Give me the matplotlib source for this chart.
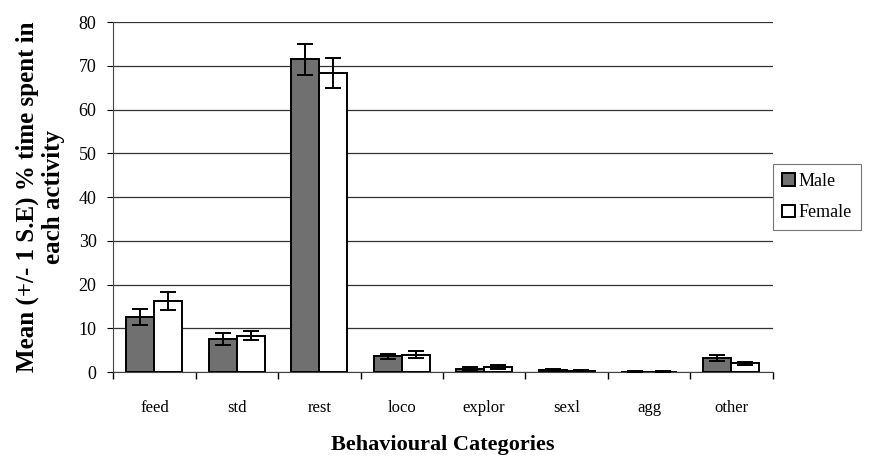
import numpy as np
import matplotlib
matplotlib.use("Agg")
import matplotlib.pyplot as plt

plt.rcParams['font.family'] = ['Liberation Serif', 'DejaVu Serif']

categories = ['feed', 'std', 'rest', 'loco', 'explor', 'sexl', 'agg', 'other']
male = [12.6, 7.5, 71.5, 3.6, 0.8, 0.5, 0.1, 3.3]
male_se = [1.8, 1.4, 3.6, 0.6, 0.3, 0.3, 0.1, 0.7]
female = [16.3, 8.3, 68.4, 4.0, 1.1, 0.3, 0.1, 2.0]
female_se = [2.1, 1.0, 3.5, 0.7, 0.4, 0.1, 0.1, 0.4]

fig = plt.figure(figsize=(8.78, 4.61), dpi=100)
ax = fig.add_axes([0.129, 0.193, 0.751, 0.759])

x = np.arange(len(categories))
w = 0.34
err_kw = dict(ecolor='black', elinewidth=1.4, capsize=5.5, capthick=1.4)
ax.bar(x - w / 2, male, w, yerr=male_se, color='#707070', edgecolor='black',
       linewidth=1.4, label='Male', error_kw=err_kw, zorder=3)
ax.bar(x + w / 2, female, w, yerr=female_se, color='white', edgecolor='black',
       linewidth=1.4, label='Female', error_kw=err_kw, zorder=3)

ax.set_xlim(-0.5, len(categories) - 0.5)
ax.set_ylim(0, 80)
ax.set_yticks(np.arange(0, 81, 10))
ax.yaxis.grid(True, color='#333333', linewidth=0.9, zorder=0)
ax.set_axisbelow(True)

ax.set_xticks(x)
ax.set_xticklabels(categories, fontsize=12)
ax.set_xticks(np.arange(-0.5, len(categories)), minor=True)
ax.tick_params(axis='x', which='major', length=0, pad=20)
ax.tick_params(axis='x', which='minor', length=5, direction='out', width=1)
ax.tick_params(axis='y', labelsize=13, length=4, direction='out', pad=8)

for s in ['top', 'right']:
    ax.spines[s].set_visible(False)
ax.spines['left'].set_color('#444444')
ax.spines['bottom'].set_color('#444444')

ax.set_ylabel('Mean (+/- 1 S.E) % time spent in\neach activity',
              fontsize=18, fontweight='bold', labelpad=10, linespacing=1.15)
ax.set_xlabel('Behavioural Categories', fontsize=16, fontweight='bold', labelpad=14)

leg = ax.legend(loc='center left', bbox_to_anchor=(0.995, 0.5), fontsize=13,
                frameon=True, fancybox=False, edgecolor='#555555',
                handlelength=0.7, handleheight=0.7, handletextpad=0.2,
                borderpad=0.5, labelspacing=0.8, borderaxespad=0.2)
leg.get_frame().set_linewidth(0.8)

fig.savefig('out.png', dpi=100)
